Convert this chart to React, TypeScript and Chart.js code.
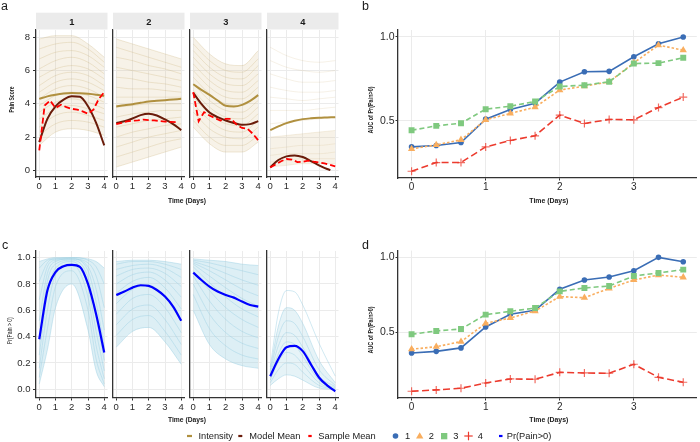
import { useEffect, useRef } from 'react';
import { Chart, registerables } from 'chart.js';

Chart.register(...registerables);

const FONT = '"Liberation Sans", Arial, Helvetica, sans-serif';
Chart.defaults.font.family = FONT;

// ---------------- data ----------------
const FACETS = ['1', '2', '3', '4'];
const TIME_TICKS = [0, 1, 2, 3, 4];
const PAIN_TICKS = [0, 2, 4, 6, 8];
const PROB_TICKS = [0, 0.2, 0.4, 0.6, 0.8, 1.0];
const AUC_TIME_TICKS = [0, 1, 2, 3];
const AUC_TICKS = [0.5, 1.0];

const SPAG_X = [0, 1, 2, 3, 4];
const HALF_X = [0, 0.5, 1, 1.5, 2, 2.5, 3, 3.5, 4];
const MODEL_X_F4 = [0, 0.5, 1, 1.5, 2, 2.5, 3, 3.5, 3.7];
const SAMPLE_X = [0, 0.333, 0.667, 1, 1.333, 1.667, 2, 2.333, 2.667, 3, 3.333, 3.667, 4];
const PROB_X_F1 = [0, 0.5, 1, 2, 3, 3.5, 4];
const PROB_X_F4 = [0, 0.5, 1, 1.5, 2, 3, 4];
const AUC_X = [0, 0.333, 0.667, 1, 1.333, 1.667, 2, 2.333, 2.667, 3, 3.333, 3.667];

// panel a: individual pain trajectories (faint), top to bottom
const PAIN_SUBJ_F1 = [
  [7.9, 8.1, 8.1, 7.6, 6.8], [7.3, 7.6, 7.7, 7.3, 6.5], [6.7, 7.1, 7.2, 6.9, 6.2],
  [6.1, 6.6, 6.8, 6.5, 5.8], [5.6, 6.1, 6.3, 6.1, 5.5], [5.1, 5.7, 5.9, 5.7, 5.1],
  [4.7, 5.3, 5.5, 5.3, 4.8], [4.3, 4.9, 5.1, 4.9, 4.4], [3.9, 4.5, 4.7, 4.5, 4.1],
  [3.5, 4.1, 4.3, 4.1, 3.7], [3.1, 3.7, 3.9, 3.7, 3.4], [2.6, 3.3, 3.5, 3.3, 3.0],
  [2.1, 2.8, 3.0, 2.9, 2.6], [1.5, 2.3, 2.5, 2.4, 2.1],
];
const PAIN_SUBJ_F2 = [
  [7.9, 7.6, 7.3, 7.0, 6.7], [7.4, 7.1, 6.8, 6.5, 6.2], [6.8, 6.6, 6.3, 6.1, 5.8],
  [6.2, 6.0, 5.8, 5.6, 5.4], [5.6, 5.5, 5.3, 5.2, 5.0], [5.0, 4.9, 4.9, 4.8, 4.7],
  [4.4, 4.4, 4.4, 4.4, 4.4], [3.8, 3.9, 4.0, 4.0, 4.0], [3.2, 3.4, 3.5, 3.6, 3.6],
  [2.6, 2.8, 3.0, 3.1, 3.2], [2.0, 2.3, 2.5, 2.7, 2.8], [1.4, 1.7, 2.0, 2.2, 2.4],
  [0.8, 1.1, 1.4, 1.7, 1.9], [0.2, 0.5, 0.8, 1.1, 1.4],
];
const PAIN_SUBJ_F3 = [
  [8.0, 7.0, 6.4, 6.3, 7.2], [7.6, 6.6, 6.0, 5.9, 6.7], [7.2, 6.2, 5.6, 5.5, 6.3],
  [6.8, 5.8, 5.2, 5.1, 5.8], [6.4, 5.4, 4.8, 4.7, 5.4], [6.0, 5.0, 4.4, 4.3, 5.0],
  [5.6, 4.6, 4.0, 3.9, 4.6], [5.2, 4.2, 3.6, 3.5, 4.2], [4.8, 3.8, 3.2, 3.1, 3.8],
  [4.4, 3.4, 2.8, 2.7, 3.4], [4.0, 3.0, 2.4, 2.3, 3.0], [3.5, 2.5, 2.0, 1.9, 2.6],
  [3.0, 2.0, 1.5, 1.5, 2.1], [2.6, 1.6, 1.1, 1.1, 1.7],
];
const PAIN_SUBJ_F4 = [
  [7.4, 6.9, 6.6, 6.5, 6.6], [6.6, 6.2, 6.0, 5.9, 6.0], [5.8, 5.5, 5.3, 5.3, 5.4],
  [5.0, 4.8, 4.7, 4.7, 4.8], [4.4, 4.3, 4.2, 4.3, 4.4], [3.6, 3.6, 3.6, 3.7, 3.8],
  [2.8, 2.9, 3.0, 3.1, 3.2], [2.0, 2.1, 2.2, 2.3, 2.4], [1.3, 1.4, 1.5, 1.5, 1.6],
  [0.9, 1.0, 1.0, 1.0, 1.1], [0.5, 0.6, 0.7, 0.7, 0.7], [0.2, 0.3, 0.4, 0.4, 0.4],
];

const INTENSITY_F1 = [4.3, 4.45, 4.55, 4.62, 4.65, 4.63, 4.6, 4.55, 4.48];
const INTENSITY_F2 = [3.84, 3.92, 3.98, 4.06, 4.14, 4.18, 4.22, 4.26, 4.3];
const INTENSITY_F3 = [5.18, 4.84, 4.54, 4.2, 3.88, 3.84, 3.94, 4.18, 4.52];
const INTENSITY_F4 = [2.42, 2.64, 2.84, 2.98, 3.08, 3.13, 3.16, 3.18, 3.2];

const MODEL_F1 = [1.7, 3.1, 3.85, 4.25, 4.45, 4.42, 3.85, 2.85, 1.5];
const MODEL_F2 = [2.84, 2.95, 3.12, 3.32, 3.4, 3.3, 3.06, 2.78, 2.42];
const MODEL_F3 = [4.66, 4.0, 3.48, 3.2, 3.0, 2.85, 2.74, 2.78, 2.96];
const MODEL_F4 = [0.18, 0.62, 0.84, 0.9, 0.8, 0.56, 0.3, 0.08, 0.02];

const SAMPLE_F1 = [1.2, 3.9, 4.2, 3.75, 3.95, 3.8, 3.7, 3.65, 3.55, 3.4, 3.65, 4.3, 4.7];
const SAMPLE_F2 = [2.78, 2.85, 2.95, 2.98, 3.0, 3.05, 3.02, 3.0, 2.97, 2.93, 2.92, 2.9];
const SAMPLE_F3 = [4.7, 2.95, 3.5, 3.3, 3.15, 3.0, 3.1, 3.1, 2.75, 2.55, 2.5, 2.2, 1.8];
const SAMPLE_F4 = [0.18, 0.35, 0.55, 0.68, 0.65, 0.5, 0.52, 0.58, 0.52, 0.47, 0.42, 0.33, 0.24];

// panel c: individual Pr(Pain>0) trajectories, top to bottom
const PROB_SUBJ_F1 = [
  [0.97, 0.99, 1.0, 1.0, 0.99, 0.97, 0.92], [0.92, 0.98, 0.99, 1.0, 0.98, 0.93, 0.8],
  [0.82, 0.96, 0.99, 0.99, 0.96, 0.86, 0.62], [0.68, 0.93, 0.98, 0.99, 0.93, 0.76, 0.45],
  [0.52, 0.88, 0.97, 0.99, 0.9, 0.66, 0.32], [0.38, 0.82, 0.95, 0.98, 0.85, 0.55, 0.22],
  [0.26, 0.72, 0.92, 0.97, 0.78, 0.44, 0.14], [0.16, 0.6, 0.87, 0.95, 0.7, 0.33, 0.08],
  [0.09, 0.46, 0.78, 0.9, 0.6, 0.23, 0.04], [0.04, 0.3, 0.62, 0.8, 0.45, 0.14, 0.02],
];
const PROB_SUBJ_F2 = [
  [0.97, 0.98, 0.98, 0.97, 0.95], [0.95, 0.97, 0.97, 0.95, 0.91], [0.91, 0.94, 0.95, 0.92, 0.85],
  [0.86, 0.91, 0.92, 0.88, 0.78], [0.8, 0.87, 0.89, 0.83, 0.7], [0.73, 0.82, 0.85, 0.77, 0.61],
  [0.65, 0.76, 0.79, 0.7, 0.52], [0.57, 0.69, 0.72, 0.62, 0.43], [0.49, 0.61, 0.64, 0.53, 0.34],
  [0.41, 0.53, 0.56, 0.44, 0.26], [0.32, 0.44, 0.47, 0.36, 0.19],
];
const PROB_SUBJ_F3 = [
  [0.99, 0.98, 0.97, 0.95, 0.94], [0.98, 0.96, 0.93, 0.9, 0.87], [0.97, 0.93, 0.88, 0.83, 0.79],
  [0.96, 0.9, 0.83, 0.76, 0.71], [0.95, 0.86, 0.77, 0.69, 0.63], [0.93, 0.81, 0.7, 0.61, 0.55],
  [0.9, 0.75, 0.62, 0.53, 0.47], [0.86, 0.67, 0.53, 0.44, 0.39], [0.8, 0.57, 0.43, 0.35, 0.31],
  [0.72, 0.46, 0.33, 0.26, 0.23], [0.6, 0.34, 0.23, 0.18, 0.16],
];
const PROB_SUBJ_F4 = [
  [0.17, 0.58, 0.75, 0.74, 0.64, 0.35, 0.1], [0.15, 0.48, 0.62, 0.6, 0.5, 0.22, 0.05],
  [0.13, 0.4, 0.52, 0.5, 0.4, 0.15, 0.03], [0.11, 0.33, 0.43, 0.41, 0.32, 0.1, 0.02],
  [0.09, 0.27, 0.36, 0.34, 0.25, 0.07, 0.01], [0.07, 0.21, 0.28, 0.26, 0.19, 0.05, 0.0],
  [0.05, 0.15, 0.2, 0.19, 0.13, 0.03, 0.0], [0.03, 0.08, 0.11, 0.1, 0.07, 0.01, 0.0],
];

const PR_MEAN_F1 = [0.38, 0.75, 0.89, 0.935, 0.945, 0.93, 0.8, 0.57, 0.28];
const PR_MEAN_F2 = [0.716, 0.742, 0.772, 0.79, 0.785, 0.754, 0.704, 0.628, 0.52];
const PR_MEAN_F3 = [0.886, 0.83, 0.78, 0.742, 0.716, 0.696, 0.666, 0.64, 0.628];
const PR_MEAN_F4 = [0.1, 0.23, 0.32, 0.33, 0.29, 0.19, 0.09, 0.03, -0.015];

// panels b and d: AUC of Pr(Pain>0) by group
const AUC_B_1 = [0.345, 0.353, 0.371, 0.51, 0.567, 0.605, 0.73, 0.792, 0.794, 0.881, 0.958, 0.998];
const AUC_B_2 = [0.333, 0.357, 0.387, 0.506, 0.544, 0.581, 0.683, 0.706, 0.732, 0.845, 0.95, 0.92];
const AUC_B_3 = [0.444, 0.47, 0.486, 0.569, 0.587, 0.615, 0.704, 0.712, 0.732, 0.841, 0.843, 0.875];
const AUC_B_4 = [0.2, 0.252, 0.252, 0.345, 0.383, 0.411, 0.534, 0.484, 0.508, 0.506, 0.579, 0.641];
const AUC_D_1 = [0.362, 0.373, 0.396, 0.536, 0.62, 0.647, 0.787, 0.849, 0.869, 0.911, 1.0, 0.971];
const AUC_D_2 = [0.387, 0.404, 0.438, 0.56, 0.596, 0.642, 0.738, 0.731, 0.793, 0.849, 0.882, 0.867];
const AUC_D_3 = [0.487, 0.509, 0.522, 0.618, 0.64, 0.662, 0.773, 0.796, 0.809, 0.876, 0.896, 0.918];
const AUC_D_4 = [0.107, 0.116, 0.127, 0.162, 0.189, 0.187, 0.233, 0.229, 0.227, 0.287, 0.2, 0.167];

// ---------------- styling ----------------
const GRID = '#ebebeb';
const AXIS = '#333333';
const TICK_TEXT = '#2b2b2b';
const GOLD = '#b0903f';
const BROWN = '#6a1c0a';
const RED = '#ff0000';
const PR_BLUE = '#0000ff';
const TAN_LINE = 'rgba(196,168,105,0.32)';
const TAN_FILL = 'rgba(215,192,140,0.2)';
const SKY_LINE = 'rgba(150,205,225,0.55)';
const SKY_FILL = 'rgba(173,216,230,0.42)';
const C1 = '#3a6db5';
const C2 = '#f9ae5f';
const C3 = '#7fc97f';
const C4 = '#ec3b2e';

const FACET_L = [36, 113, 190, 267];
const FACET_W = 71.5;

type Rect = { x: number; y: number; w: number; h: number };
type Plot = { l: number; t: number; r: number; b: number };
type AxisSpec = {
  min: number; max: number; ticks: number[]; labels: boolean; marks: boolean;
  font: number; tickLen: number; pad: number; fmt: (v: number) => string;
};

const pts = (xs: number[], ys: number[]) => ys.map((y, i) => ({ x: xs[i], y }));

function curve(xs: number[], ys: number[], color: string, width: number, extra: any = {}) {
  return {
    data: pts(xs, ys), borderColor: color, backgroundColor: color, borderWidth: width,
    pointRadius: 0, pointHoverRadius: 0, fill: false, cubicInterpolationMode: 'monotone',
    ...extra,
  };
}

function bundle(xs: number[], curves: number[][], stroke: string, fillColor: string, fillFrom: number) {
  return curves.map((ys, i) =>
    curve(xs, ys, stroke, 0.8, {
      order: 20,
      fill: i > fillFrom ? '-1' : false,
      backgroundColor: fillColor,
    }),
  );
}

function scale(axis: 'x' | 'y', a: AxisSpec, size: number) {
  return {
    type: 'linear',
    position: axis === 'x' ? 'bottom' : 'left',
    min: a.min,
    max: a.max,
    afterBuildTicks: (s: any) => { s.ticks = a.ticks.map((v) => ({ value: v })); },
    afterFit: (s: any) => { if (axis === 'x') s.height = size; else s.width = size; },
    grid: { color: GRID, lineWidth: 1, drawTicks: a.marks, tickLength: a.tickLen, tickColor: AXIS, tickWidth: 1 },
    border: { display: true, color: AXIS, width: 1.3 },
    ticks: {
      display: a.labels, color: TICK_TEXT, padding: a.pad, autoSkip: false, maxRotation: 0, minRotation: 0,
      font: { family: FONT, size: a.font }, callback: (v: number) => a.fmt(v),
    },
  };
}

function makeConfig(canvas: Rect, plot: Plot, datasets: any[], x: AxisSpec, y: AxisSpec) {
  return {
    type: 'line',
    data: { datasets },
    options: {
      responsive: false, maintainAspectRatio: false, animation: false, devicePixelRatio: 1, events: [],
      layout: { padding: { left: 0, bottom: 0, top: plot.t - canvas.y, right: canvas.x + canvas.w - plot.r } },
      plugins: { legend: { display: false }, tooltip: { enabled: false }, title: { display: false } },
      scales: {
        x: scale('x', x, canvas.y + canvas.h - plot.b),
        y: scale('y', y, plot.l - canvas.x),
      },
    },
  };
}

const fmtInt = (v: number) => String(Math.round(v));
const fmt1 = (v: number) => v.toFixed(1);

type Spec = { id: string; canvas: Rect; plot: Plot; build: () => any };

function facetCanvas(k: number, top: number, h: number): Rect {
  return k === 0 ? { x: 0, y: top, w: 114, h } : { x: FACET_L[k] - 6, y: top, w: 84, h };
}

const PAIN_SUBJ = [PAIN_SUBJ_F1, PAIN_SUBJ_F2, PAIN_SUBJ_F3, PAIN_SUBJ_F4];
const INTENSITY = [INTENSITY_F1, INTENSITY_F2, INTENSITY_F3, INTENSITY_F4];
const MODEL = [MODEL_F1, MODEL_F2, MODEL_F3, MODEL_F4];
const SAMPLE = [SAMPLE_F1, SAMPLE_F2, SAMPLE_F3, SAMPLE_F4];
const PROB_SUBJ = [PROB_SUBJ_F1, PROB_SUBJ_F2, PROB_SUBJ_F3, PROB_SUBJ_F4];
const PROB_XS = [PROB_X_F1, SPAG_X, SPAG_X, PROB_X_F4];
const PR_MEAN = [PR_MEAN_F1, PR_MEAN_F2, PR_MEAN_F3, PR_MEAN_F4];

function aucSeries(vals: number[], color: string, dash: number[], style: string, radius: number, order: number) {
  return {
    data: pts(AUC_X, vals), borderColor: color, backgroundColor: color, borderWidth: 1.6, borderDash: dash,
    tension: 0, fill: false, pointStyle: style, pointRadius: radius, pointHoverRadius: radius,
    pointBackgroundColor: color,
    pointBorderColor: style === 'cross' ? 'rgba(236,59,46,0.75)' : color,
    pointBorderWidth: style === 'cross' ? 1.2 : 0, order,
  };
}

function aucDatasets(s1: number[], s2: number[], s3: number[], s4: number[]) {
  return [
    aucSeries(s1, C1, [], 'circle', 2.8, 3),
    aucSeries(s2, C2, [2.5, 2], 'triangle', 4.2, 2),
    aucSeries(s3, C3, [5, 3], 'rect', 4.2, 1),
    aucSeries(s4, C4, [7, 3.5], 'cross', 4, 0),
  ];
}

const SPECS: Spec[] = [
  ...FACETS.map((f, k) => {
    const canvas = facetCanvas(k, 18, 179);
    const plot = { l: FACET_L[k], t: 30, r: FACET_L[k] + FACET_W, b: 177 };
    return {
      id: 'a' + f, canvas, plot,
      build: () => makeConfig(canvas, plot, [
        ...bundle(SPAG_X, PAIN_SUBJ[k], k === 3 ? 'rgba(196,168,105,0.2)' : TAN_LINE, TAN_FILL, k === 3 ? 7 : 0),
        curve(HALF_X, INTENSITY[k], GOLD, 2, { order: 3 }),
        curve(k === 3 ? MODEL_X_F4 : HALF_X, MODEL[k], BROWN, 2, { order: 2 }),
        curve(SAMPLE_X, SAMPLE[k], RED, 1.8, { order: 1, borderDash: [6, 3], cubicInterpolationMode: 'default', tension: 0 }),
      ],
      { min: -0.2, max: 4.2, ticks: TIME_TICKS, labels: true, marks: true, font: 9.5, tickLen: 3, pad: 1, fmt: fmtInt },
      { min: -0.4, max: 8.44, ticks: PAIN_TICKS, labels: k === 0, marks: k === 0, font: 9.5, tickLen: 3, pad: 3, fmt: fmtInt }),
    };
  }),
  ...FACETS.map((f, k) => {
    const canvas = facetCanvas(k, 239, 178);
    const plot = { l: FACET_L[k], t: 251, r: FACET_L[k] + FACET_W, b: 397.5 };
    return {
      id: 'c' + f, canvas, plot,
      build: () => makeConfig(canvas, plot, [
        ...bundle(PROB_XS[k], PROB_SUBJ[k], SKY_LINE, k === 3 ? 'rgba(173,216,230,0.3)' : SKY_FILL, k === 3 ? 1 : 0),
        curve(HALF_X, PR_MEAN[k], PR_BLUE, 2.2, { order: 1 }),
      ],
      { min: -0.2, max: 4.2, ticks: TIME_TICKS, labels: true, marks: true, font: 9.5, tickLen: 3, pad: 1, fmt: fmtInt },
      { min: -0.062, max: 1.05, ticks: PROB_TICKS, labels: k === 0, marks: k === 0, font: 9.5, tickLen: 3, pad: 2.5, fmt: fmt1 }),
    };
  }),
  (() => {
    const canvas = { x: 350, y: 18, w: 352, h: 179 };
    const plot = { l: 398, t: 30, r: 700.5, b: 178 };
    return {
      id: 'b', canvas, plot,
      build: () => makeConfig(canvas, plot, aucDatasets(AUC_B_1, AUC_B_2, AUC_B_3, AUC_B_4),
        { min: -0.1833, max: 3.85, ticks: AUC_TIME_TICKS, labels: true, marks: true, font: 10, tickLen: 2.5, pad: 0.5, fmt: fmtInt },
        { min: 0.16, max: 1.04, ticks: AUC_TICKS, labels: true, marks: true, font: 10.5, tickLen: 2.5, pad: 1, fmt: fmt1 }),
    };
  })(),
  (() => {
    const canvas = { x: 350, y: 238, w: 352, h: 179 };
    const plot = { l: 398, t: 250.6, r: 700.5, b: 398 };
    return {
      id: 'd', canvas, plot,
      build: () => makeConfig(canvas, plot, aucDatasets(AUC_D_1, AUC_D_2, AUC_D_3, AUC_D_4),
        { min: -0.1833, max: 3.85, ticks: AUC_TIME_TICKS, labels: true, marks: true, font: 10, tickLen: 2.5, pad: 0.5, fmt: fmtInt },
        { min: 0.062, max: 1.045, ticks: AUC_TICKS, labels: true, marks: true, font: 10.5, tickLen: 2.5, pad: 1, fmt: fmt1 }),
    };
  })(),
];

function Overlay() {
  const T = '#1a1a1a';
  return (
    <svg width={700} height={442} style={{ position: 'absolute', left: 0, top: 0, pointerEvents: 'none' }} fontFamily={FONT}>
      <text x={1} y={10} fontSize={12.5} fill={T}>a</text>
      <text x={362} y={10} fontSize={12.5} fill={T}>b</text>
      <text x={2} y={249.3} fontSize={12.5} fill={T}>c</text>
      <text x={362} y={249.3} fontSize={12.5} fill={T}>d</text>

      {FACETS.map((f, k) => (
        <g key={f}>
          <rect x={FACET_L[k]} y={12.7} width={FACET_W} height={16.8} fill="#ebebeb" />
          <text x={FACET_L[k] + FACET_W / 2} y={25} textAnchor="middle" fontSize={9.3} fontWeight="bold" fill={T}>{f}</text>
        </g>
      ))}

      <text x={14} y={99.5} transform="rotate(-90 14 99.5)" textAnchor="middle" fontSize={7.5} fontWeight="bold" fill={T} textLength={26} lengthAdjust="spacingAndGlyphs">Pain Score</text>
      <text x={12} y={330.7} transform="rotate(-90 12 330.7)" textAnchor="middle" fontSize={6.5} fill={T} textLength={27} lengthAdjust="spacingAndGlyphs">Pr(Pain &gt; 0)</text>
      <text x={372.7} y={110} transform="rotate(-90 372.7 110)" textAnchor="middle" fontSize={6.3} fontWeight="bold" fill={T} textLength={47} lengthAdjust="spacingAndGlyphs">AUC of Pr(Pain&gt;0)</text>
      <text x={372.7} y={330} transform="rotate(-90 372.7 330)" textAnchor="middle" fontSize={6.3} fontWeight="bold" fill={T} textLength={47} lengthAdjust="spacingAndGlyphs">AUC of Pr(Pain&gt;0)</text>

      <text x={187} y={202.5} textAnchor="middle" fontSize={7} fontWeight="bold" fill={T} textLength={38} lengthAdjust="spacingAndGlyphs">Time (Days)</text>
      <text x={548.8} y={202.5} textAnchor="middle" fontSize={7} fontWeight="bold" fill={T} textLength={39} lengthAdjust="spacingAndGlyphs">Time (Days)</text>
      <text x={187} y={422} textAnchor="middle" fontSize={7} fontWeight="bold" fill={T} textLength={38} lengthAdjust="spacingAndGlyphs">Time (Days)</text>
      <text x={548.8} y={422} textAnchor="middle" fontSize={7} fontWeight="bold" fill={T} textLength={39} lengthAdjust="spacingAndGlyphs">Time (Days)</text>

      {/* legend */}
      <g fontSize={9.3} fill={T}>
        <line x1={187} x2={192} y1={436} y2={436} stroke={GOLD} strokeWidth={2.2} />
        <text x={198.4} y={439.3}>Intensity</text>
        <line x1={238.3} x2={242.3} y1={436} y2={436} stroke={BROWN} strokeWidth={2.2} />
        <text x={249.3} y={439.3}>Model Mean</text>
        <line x1={308.3} x2={311.7} y1={436} y2={436} stroke={RED} strokeWidth={2.2} />
        <text x={318.3} y={439.3}>Sample Mean</text>
        <circle cx={395.5} cy={436} r={2.8} fill={C1} />
        <text x={405} y={439.3}>1</text>
        <polygon points="416,438.6 423.4,438.6 419.7,432.3" fill={C2} />
        <text x={428.7} y={439.3}>2</text>
        <rect x={441} y={433} width={6.3} height={6.3} fill={C3} />
        <text x={453.3} y={439.3}>3</text>
        <line x1={464.3} x2={472.7} y1={436} y2={436} stroke={C4} strokeWidth={1.2} />
        <line x1={468.5} x2={468.5} y1={431.7} y2={440.3} stroke={C4} strokeWidth={1.2} />
        <text x={477.7} y={439.3}>4</text>
        <line x1={499} x2={502.5} y1={436} y2={436} stroke={PR_BLUE} strokeWidth={2.2} />
        <text x={506.7} y={439.3}>Pr(Pain&gt;0)</text>
      </g>
    </svg>
  );
}

export default function App() {
  const refs = useRef<(HTMLCanvasElement | null)[]>([]);
  useEffect(() => {
    const charts = SPECS.map((s, i) => new Chart(refs.current[i] as HTMLCanvasElement, s.build() as any));
    return () => charts.forEach((c) => c.destroy());
  }, []);
  return (
    <div style={{ position: 'fixed', left: 0, top: 0, width: 700, height: 442, overflow: 'hidden', background: '#fff' }}>
      {SPECS.map((s, i) => (
        <canvas
          key={s.id}
          ref={(el) => { refs.current[i] = el; }}
          width={s.canvas.w}
          height={s.canvas.h}
          style={{ position: 'absolute', left: s.canvas.x, top: s.canvas.y, width: s.canvas.w, height: s.canvas.h }}
        />
      ))}
      <Overlay />
    </div>
  );
}
